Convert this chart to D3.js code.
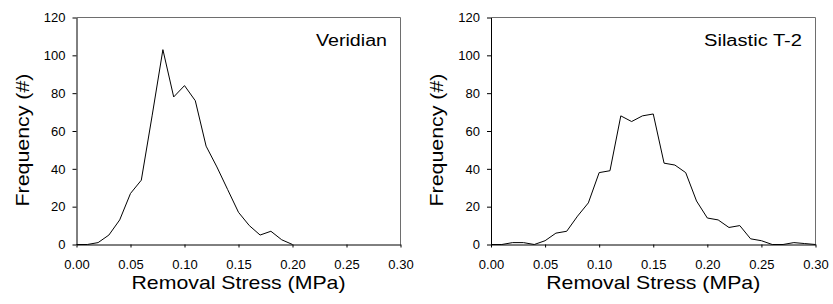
<!DOCTYPE html>
<html>
<head>
<meta charset="utf-8">
<script src="https://cdn.jsdelivr.net/npm/d3@7"></script>
<style>
  body { margin: 0; background: #fff; }
  svg { display: block; font-family: "Liberation Sans", Arial, sans-serif; }
</style>
</head>
<body>
<div id="chart"></div>
<script>
// removal stress bins (MPa)
const stressVeridian = [0.00, 0.01, 0.02, 0.03, 0.04, 0.05, 0.06, 0.07, 0.08, 0.09, 0.10,
    0.11, 0.12, 0.13, 0.14, 0.15, 0.16, 0.17, 0.18, 0.19, 0.20];
const freqVeridian = [0, 0, 1, 5, 13, 27, 34, 68, 103, 78, 84,
    76, 52, 41, 29, 17, 10, 5, 7, 2.5, 0];

const stressSilastic = [0.00, 0.01, 0.02, 0.03, 0.04, 0.05, 0.06, 0.07, 0.08, 0.09, 0.10,
    0.11, 0.12, 0.13, 0.14, 0.15, 0.16, 0.17, 0.18, 0.19, 0.20,
    0.21, 0.22, 0.23, 0.24, 0.25, 0.26, 0.27, 0.28, 0.29, 0.30];
const freqSilastic = [0, 0, 1, 1, 0, 2, 6, 7, 15, 22, 38,
    39, 68, 65, 68, 69, 43, 42, 38, 23, 14,
    13, 9, 10, 3, 2, 0, 0, 1, 0.5, 0];

const xTicks = [0, 0.05, 0.10, 0.15, 0.20, 0.25, 0.30];
const yTicks = [0, 20, 40, 60, 80, 100, 120];

const panels = [
    {label: "Veridian", labelWidth: 71, x: stressVeridian, y: freqVeridian, left: 76.5, right: 400.5},
    {label: "Silastic T-2", labelWidth: 98, x: stressSilastic, y: freqSilastic, left: 491, right: 815.5}
];

const W = 833, H = 304;
const plotTop = 17.5, plotBottom = 244.5;

const svg = d3.select("#chart").append("svg")
    .attr("width", W)
    .attr("height", H);

panels.forEach(p => {
    let x = d3.scaleLinear().domain([0, 0.30]).range([p.left, p.right]);
    let y = d3.scaleLinear().domain([0, 120]).range([plotBottom, plotTop]);

    let g = svg.append("g");

    // frame (top / right)
    g.append("path")
        .attr("d", `M${p.left},${plotTop}H${p.right}V${plotBottom}`)
        .attr("fill", "none")
        .attr("stroke", "#6e6e6e")
        .attr("stroke-width", 1);

    // x axis
    let xAxis = g.append("g")
        .attr("transform", `translate(0,${plotBottom})`)
        .call(d3.axisBottom(x).tickValues(xTicks).tickFormat(d3.format(".2f"))
            .tickSizeInner(3).tickSizeOuter(0).tickPadding(12));

    // y axis
    let yAxis = g.append("g")
        .attr("transform", `translate(${p.left},0)`)
        .call(d3.axisLeft(y).tickValues(yTicks)
            .tickSizeInner(4).tickSizeOuter(0).tickPadding(7));

    [xAxis, yAxis].forEach(a => {
        a.select(".domain").attr("stroke", "#000");
        a.selectAll(".tick line").attr("stroke", "#000");
        a.selectAll(".tick text")
            .attr("fill", "#000")
            .style("font-size", "13px")
            .style("font-family", "Liberation Sans, Arial, sans-serif");
    });

    // data line
    let pts = p.x.map((d, i) => [d, p.y[i]]);
    g.append("path")
        .datum(pts)
        .attr("fill", "none")
        .attr("stroke", "#000")
        .attr("stroke-width", 1)
        .attr("d", d3.line().x(d => x(d[0])).y(d => y(d[1])));

    // panel label
    g.append("text")
        .attr("x", p.right - 13.5)
        .attr("y", 45.5)
        .attr("text-anchor", "end")
        .attr("textLength", p.labelWidth)
        .attr("lengthAdjust", "spacingAndGlyphs")
        .style("font-size", "16px")
        .text(p.label);

    // axis titles
    g.append("text")
        .attr("x", (p.left + p.right) / 2)
        .attr("y", 289)
        .attr("text-anchor", "middle")
        .attr("textLength", 214)
        .attr("lengthAdjust", "spacingAndGlyphs")
        .style("font-size", "19px")
        .text("Removal Stress (MPa)");

    g.append("text")
        .attr("transform", `translate(${p.left - 48},140) rotate(-90)`)
        .attr("text-anchor", "middle")
        .attr("textLength", 133)
        .attr("lengthAdjust", "spacingAndGlyphs")
        .style("font-size", "19px")
        .text("Frequency (#)");
});
</script>
</body>
</html>
